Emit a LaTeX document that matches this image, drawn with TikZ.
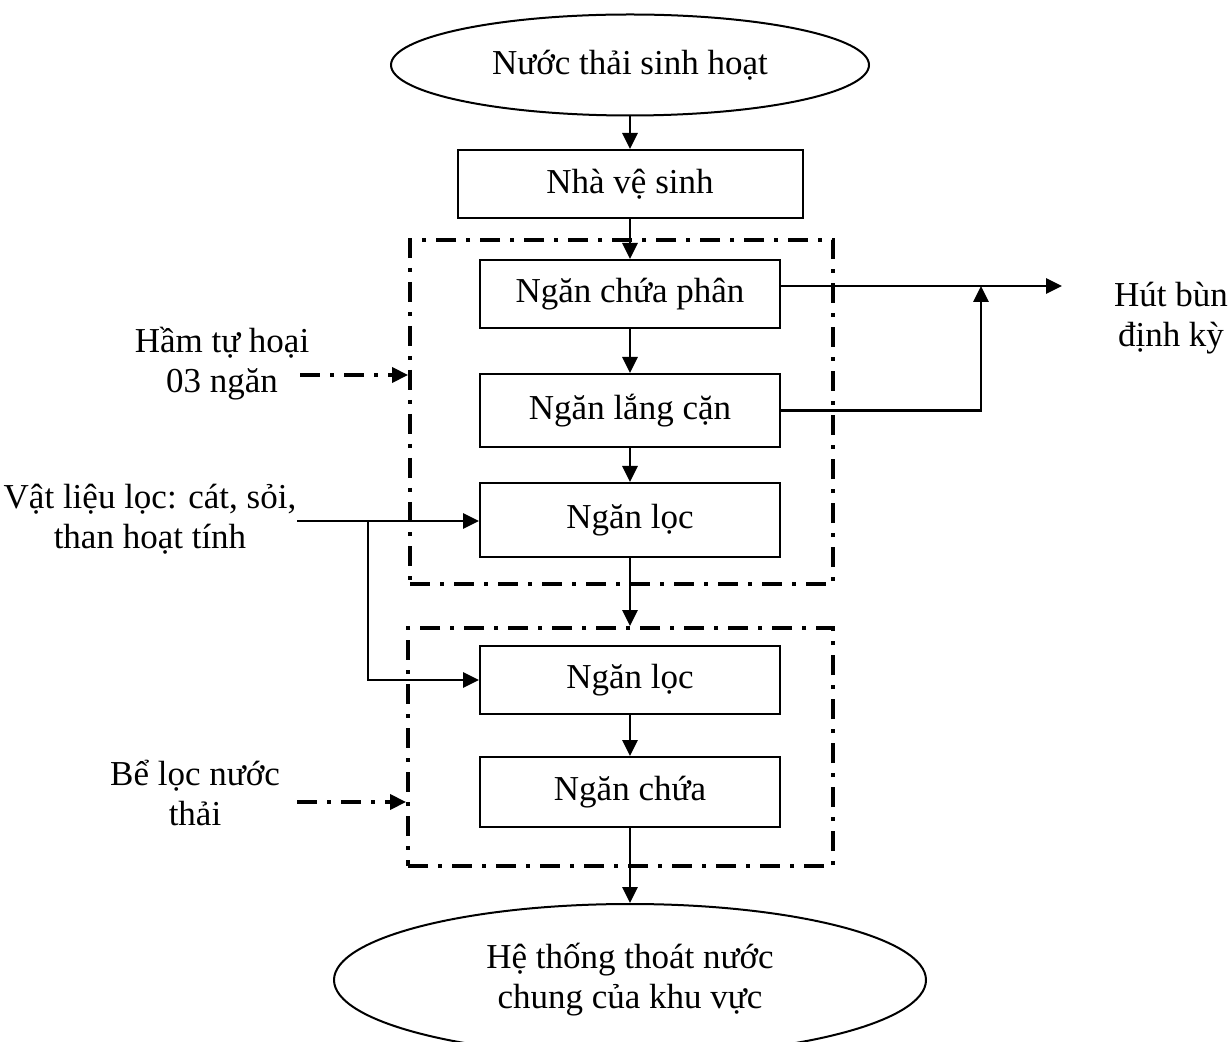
\documentclass[tikz,border=0pt]{standalone}
\usepackage{fontspec}
\setmainfont{Liberation Serif}
\usetikzlibrary{arrows.meta}
\usetikzlibrary{fit}
\usetikzlibrary{positioning}
\usetikzlibrary{shapes.geometric}

\begin{document}
\begin{tikzpicture}
      [x=0.5pt,y=-0.5pt,
       every node/.style={font=\fontsize{17.5}{20}\selectfont},
       tankBox/.style={rectangle,draw=black,line width=1pt,minimum width=150pt,minimum height=35pt},
       endEllipse/.style={ellipse,draw=black,line width=1pt,align=center},
       groupBox/.style={rectangle,draw=black,line width=1.9pt,dash pattern=on 10pt off 5pt on 2pt off 5pt,inner sep=0pt},
       flowArrow/.style={line width=1.4pt,-{Triangle[length=8pt,width=7.5pt]}},
       noteArrow/.style={line width=1.7pt,dash pattern=on 10pt off 5pt on 2pt off 5pt,-{Triangle[length=8pt,width=7.5pt]}},
       sideText/.style={align=center}]
      \useasboundingbox (0,0) rectangle (1230,1042);
      % main line
      \node[endEllipse,minimum width=239pt,minimum height=50.5pt] (source) at (630,65) {Nước thải sinh hoạt};
      \node[tankBox,minimum width=172.5pt,minimum height=34pt] (toilet) at (630,184) {Nhà vệ sinh};
      \node[tankBox,minimum height=34pt] (faeces) at (630,294) {Ngăn chứa phân};
      \node[tankBox,minimum height=36.5pt] (settle) at (630,410.5) {Ngăn lắng cặn};
      \node[tankBox,minimum height=37pt] (filterA) at (630,520) {Ngăn lọc};
      \node[tankBox,minimum height=34pt] (filterB) at (630,680) {Ngăn lọc};
      \node[tankBox] (store) at (630,792) {Ngăn chứa};
      \node[endEllipse,minimum width=296pt,minimum height=76pt] (drain) at (630,980) {Hệ thống thoát nước\\chung của khu vực};
      % dash-dot groups
      \node[groupBox,fit={(410,240) (833,584)}] (septic) {};
      \node[groupBox,fit={(408,628) (833,866)}] (filterTank) {};
      % side labels
      \node[sideText] (septicLabel) at (222,364) {Hầm tự hoại\\03 ngăn};
      \node[sideText] (mediaLabel) at (150,519) {Vật liệu lọc: cát, sỏi,\\than hoạt tính};
      \node[sideText] (filterLabel) at (195,793) {Bể lọc nước\\thải};
      \node[sideText] (sludgeLabel) at (1171,318) {Hút bùn\\định kỳ};
      \coordinate (sludgeOut) at (1062,286);
      \coordinate (sludgeJoin) at (981,286);
      \coordinate (mediaOut) at (297,521);
      \coordinate (mediaSplit) at (368,521);
      % connectors
      \draw[flowArrow] (source) -- (toilet);
      \draw[flowArrow] (toilet) -- (faeces);
      \draw[flowArrow] (faeces) -- (settle);
      \draw[flowArrow] (settle) -- (filterA);
      \draw[flowArrow] (filterA.south) -- (filterA.south |- filterTank.north);
      \draw[flowArrow] (filterB) -- (store);
      \draw[flowArrow] (store) -- (drain);
      \draw[flowArrow] (faeces.east |- sludgeOut) -- (sludgeOut);
      \draw[flowArrow] (settle.east) -| (sludgeJoin);
      \draw[flowArrow] (mediaOut) -- (mediaOut -| filterA.west);
      \draw[flowArrow] (mediaSplit) |- (filterB.west);
      \draw[noteArrow] (300,375) -- (septic.west |- 0,375);
      \draw[noteArrow] (297,802) -- (filterTank.west |- 0,802);
    \end{tikzpicture}
\end{document}
